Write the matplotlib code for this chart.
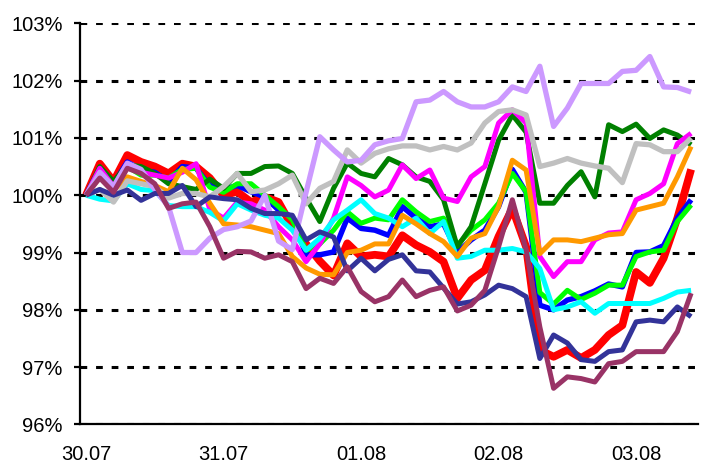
import numpy as np
import matplotlib
matplotlib.use('Agg')
import matplotlib.pyplot as plt
from matplotlib.ticker import FuncFormatter

plt.rcParams['font.family'] = ['Liberation Sans', 'DejaVu Sans']

# 10 readings per day, 30.07 .. 03.08
day_labels = ['30.07', '31.07', '01.08', '02.08', '03.08']
day_ticks = [0, 10, 20, 30, 40]

red = [100.0, 100.55, 100.24, 100.7, 100.58, 100.5, 100.38, 100.55, 100.5, 100.3,
       100.0, 100.06, 99.88, 99.97, 99.88, 99.45, 99.15, 98.85, 98.6, 99.16,
       98.93, 98.96, 98.93, 99.3, 99.13, 99.01, 98.84, 98.2, 98.52, 98.69,
       99.28, 99.77, 99.1, 97.3, 97.18, 97.3, 97.16, 97.3, 97.56, 97.73,
       98.66, 98.47, 98.9, 99.6, 100.45]
blue = [100.0, 100.47, 100.2, 100.58, 100.44, 100.4, 100.24, 100.5, 100.47, 100.17,
        100.1, 100.17, 100.06, 99.97, 99.74, 99.62, 98.96, 98.96, 99.01, 99.6,
        99.42, 99.39, 99.3, 99.8, 99.6, 99.45, 99.5, 99.0, 99.22, 99.39,
        99.8, 100.45, 100.05, 98.08, 98.0, 98.17, 98.23, 98.33, 98.45, 98.4,
        99.0, 99.01, 99.12, 99.6, 99.92]
lime = [100.0, 100.45, 100.2, 100.5, 100.35, 100.35, 100.3, 100.45, 100.47, 100.14,
        100.05, 100.2, 100.2, 100.0, 99.8, 99.57, 99.04, 99.15, 99.39, 99.71,
        99.51, 99.6, 99.57, 99.92, 99.71, 99.54, 99.6, 99.13, 99.39, 99.57,
        99.86, 100.38, 100.06, 98.3, 98.1, 98.34, 98.18, 98.29, 98.43, 98.43,
        98.93, 99.01, 99.04, 99.54, 99.83]
darkgreen = [100.0, 100.5, 100.24, 100.53, 100.5, 100.38, 100.2, 100.15, 100.1, 100.28,
             100.12, 100.38, 100.38, 100.5, 100.51, 100.38, 99.95, 99.54, 100.12, 100.56,
             100.38, 100.32, 100.64, 100.53, 100.32, 100.24, 99.92, 99.1, 99.45, 100.2,
             100.96, 101.4, 101.1, 99.86, 99.86, 100.17, 100.41, 99.97, 101.23, 101.11,
             101.24, 100.99, 101.14, 101.05, 100.88]
magenta = [100.0, 100.47, 100.15, 100.55, 100.4, 100.35, 100.3, 100.4, 100.55, 99.75,
           99.6, 99.88, 99.85, 99.74, 99.45, 99.22, 98.84, 99.15, 99.6, 100.32,
           100.17, 99.97, 100.09, 100.53, 100.29, 100.44, 99.95, 99.89, 100.32, 100.5,
           101.26, 101.49, 101.26, 98.93, 98.58, 98.84, 98.84, 99.22, 99.34, 99.36,
           99.92, 100.03, 100.2, 100.9, 101.08]
cyan = [100.0, 99.93, 99.9, 100.2, 100.1, 100.08, 99.82, 99.8, 99.8, 99.7,
        99.55, 99.85, 99.74, 99.65, 99.6, 99.39, 99.04, 99.25, 99.57, 99.74,
        99.92, 99.68, 99.6, 99.45, 99.6, 99.33, 99.54, 98.9, 98.93, 99.04,
        99.04, 99.07, 99.01, 98.72, 98.0, 98.05, 98.14, 97.94, 98.11, 98.11,
        98.11, 98.11, 98.2, 98.31, 98.34]
orange = [100.0, 100.32, 100.09, 100.32, 100.24, 100.17, 100.06, 100.47, 100.27, 99.86,
          99.5, 99.48, 99.45, 99.39, 99.33, 98.93, 98.73, 98.62, 98.61, 99.0,
          99.04, 99.15, 99.15, 99.65, 99.5, 99.33, 99.19, 98.93, 99.25, 99.33,
          99.8, 100.61, 100.44, 98.98, 99.22, 99.22, 99.19, 99.25, 99.31, 99.33,
          99.74, 99.8, 99.86, 100.32, 100.85]
gray = [100.0, 100.1, 99.88, 100.25, 100.2, 100.15, 99.95, 100.03, 100.03, 99.97,
        100.15, 100.38, 100.06, 100.09, 100.2, 100.35, 99.85, 100.12, 100.24, 100.79,
        100.56, 100.73, 100.81, 100.86, 100.86, 100.79, 100.85, 100.79, 100.91, 101.26,
        101.46, 101.49, 101.4, 100.5, 100.56, 100.64, 100.56, 100.51, 100.47, 100.22,
        100.9, 100.88, 100.76, 100.76, 101.0]
lavender = [100.0, 100.4, 100.15, 100.56, 100.45, 100.1, 99.8, 99.0, 99.0, 99.25,
            99.4, 99.45, 99.55, 100.0, 99.2, 99.05, 100.05, 101.02, 100.79, 100.58,
            100.61, 100.88, 100.95, 100.99, 101.63, 101.66, 101.81, 101.63, 101.54, 101.54,
            101.63, 101.89, 101.81, 102.25, 101.2, 101.52, 101.95, 101.95, 101.95, 102.16,
            102.18, 102.42, 101.89, 101.88, 101.8]
navy = [100.0, 100.1, 100.0, 100.09, 99.91, 100.03, 100.03, 100.17, 99.8, 99.97,
        99.94, 99.92, 99.77, 99.68, 99.68, 99.65, 99.22, 99.36, 99.27, 98.68,
        98.9, 98.68, 98.88, 98.96, 98.68, 98.66, 98.38, 98.1, 98.14, 98.26,
        98.43, 98.37, 98.23, 97.15, 97.56, 97.42, 97.13, 97.1, 97.27, 97.3,
        97.79, 97.82, 97.79, 98.05, 97.88]
maroon = [100.0, 100.3, 100.05, 100.47, 100.38, 100.2, 99.77, 99.85, 99.88, 99.45,
          98.9, 99.02, 99.01, 98.9, 98.96, 98.84, 98.37, 98.55, 98.46, 98.75,
          98.32, 98.14, 98.23, 98.52, 98.23, 98.34, 98.4, 97.98, 98.08, 98.34,
          99.1, 99.92, 99.05, 97.7, 96.63, 96.83, 96.8, 96.74, 97.06, 97.1,
          97.27, 97.27, 97.27, 97.62, 98.29]

series = [(red, '#FF0000', 5.6), (blue, '#0000FF', 3.9), (lime, '#00FF00', 3.6),
          (darkgreen, '#008000', 3.6), (magenta, '#FF00FF', 3.6), (cyan, '#00FFFF', 3.6),
          (orange, '#FF9900', 3.6), (gray, '#C0C0C0', 3.8), (lavender, '#CC99FF', 3.8),
          (navy, '#333399', 3.6), (maroon, '#993366', 3.6)]

fig = plt.figure(figsize=(7.01, 4.65), dpi=100)
ax = fig.add_axes([0.1141, 0.0873, 0.8816, 0.8626])

for vals, col, lw in series:
    x = np.arange(len(vals))
    ax.plot(x, vals, color=col, linewidth=lw, solid_joinstyle='round',
            solid_capstyle='butt', zorder=3)

ax.set_xlim(-0.44, 44.5)
ax.set_ylim(96, 103)
ax.set_yticks(range(96, 104))
ax.yaxis.set_major_formatter(FuncFormatter(lambda v, p: '%d%%' % v))
ax.set_xticks(day_ticks)
ax.set_xticklabels(day_labels)

ax.grid(axis='y', color='black', linewidth=2.2, linestyle=(0, (2.2, 2.9)))
ax.set_axisbelow(True)

for s in ['top', 'right']:
    ax.spines[s].set_visible(False)
for s in ['left', 'bottom']:
    ax.spines[s].set_linewidth(1.6)
    ax.spines[s].set_zorder(4)

ax.tick_params(axis='y', length=4.5, width=1.6, pad=8, labelsize=14.5)
ax.tick_params(axis='x', length=0, pad=14.5, labelsize=14.5)

fig.savefig('out.png', dpi=100)
